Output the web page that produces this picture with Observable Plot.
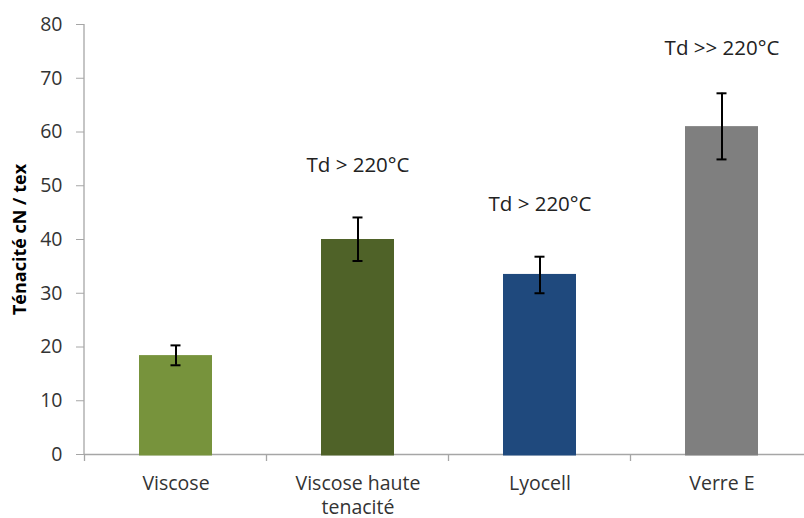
<!DOCTYPE html>
<html>
<head>
<meta charset="utf-8">
<script src="https://cdn.jsdelivr.net/npm/d3@7"></script>
<script src="https://cdn.jsdelivr.net/npm/@observablehq/plot@0.6"></script>
<style>
  html, body { margin: 0; padding: 0; background: #fff; }
  #chart svg { display: block; }
</style>
</head>
<body>
<div id="chart"></div>
<script>
const categories = ["Viscose", "Viscose haute\ntenacité", "Lyocell", "Verre E"];
const values = [18.4, 40.0, 33.5, 61.0];
const errLow = [16.6, 36.0, 30.0, 54.9];
const errHigh = [20.3, 44.1, 36.8, 67.2];
const barColors = ["#77933C", "#4F6228", "#1F497D", "#7F7F7F"];
const annotations = ["Td > 220°C", "Td > 220°C", "Td >> 220°C"];
const annotationCategories = ["Viscose haute\ntenacité", "Lyocell", "Verre E"];
const annotationY = [53.75, 46.6, 75.6];
const yTicks = [0, 10, 20, 30, 40, 50, 60, 70, 80];
const yLabel = "Ténacité cN / tex";

const data = categories.map((c, i) => ({name: c, value: values[i], lo: errLow[i], hi: errHigh[i], color: barColors[i]}));
const notes = annotations.map((t, i) => ({name: annotationCategories[i], y: annotationY[i], text: t}));

const axisGray = "#A6A6A6";

// category separator ticks below the x axis, positioned through the x scale
function categoryTicks(index, scales, values, dims) {
  const x = scales.x;
  const step = x(categories[1]) - x(categories[0]);
  const bw = (x.bandwidth !== undefined ? (typeof x.bandwidth === "function" ? x.bandwidth() : x.bandwidth) : step * 0.4);
  const y0 = scales.y(0);
  const g = d3.create("svg:g");
  categories.forEach(c => {
    const bx = x(c) + bw / 2 - step / 2;
    g.append("line").attr("x1", bx).attr("x2", bx).attr("y1", y0).attr("y2", y0 + 7)
      .attr("stroke", axisGray).attr("stroke-width", 1.3);
  });
  // y axis line
  g.append("line").attr("x1", dims.marginLeft).attr("x2", dims.marginLeft)
    .attr("y1", dims.marginTop).attr("y2", y0)
    .attr("stroke", axisGray).attr("stroke-width", 1.3);
  return g.node();
}

const chart = Plot.plot({
  width: 804,
  height: 518,
  marginLeft: 84,
  marginRight: 0,
  marginTop: 24,
  marginBottom: 64,
  style: {fontFamily: "'Open Sans', sans-serif", fontSize: "19.5px", color: "#333", background: "#fff"},
  x: {domain: categories, range: [84, 813], paddingInner: 0.6, paddingOuter: 0.3},
  y: {domain: [0, 80], range: [454, 24]},
  marks: [
    Plot.ruleY([0], {stroke: axisGray, strokeWidth: 1.5}),
    categoryTicks,
    Plot.barY(data, {x: "name", y: "value", fill: "color", insetBottom: -1.5}),
    Plot.ruleX(data, {x: "name", y1: "lo", y2: "hi", stroke: "black", strokeWidth: 2}),
    Plot.tickY(data, {x: "name", y: "lo", stroke: "black", strokeWidth: 2, insetLeft: 31.5, insetRight: 31.5}),
    Plot.tickY(data, {x: "name", y: "hi", stroke: "black", strokeWidth: 2, insetLeft: 31.5, insetRight: 31.5}),
    Plot.text(notes, {x: "name", y: "y", text: "text", fontSize: 20.5, fill: "#222", textAnchor: "middle", lineAnchor: "middle"}),
    Plot.axisY({ticks: yTicks, tickSize: 8, tickPadding: 14, stroke: axisGray, fill: "#333",
      label: yLabel, labelAnchor: "center", labelOffset: 71, labelArrow: "none"}),
    Plot.axisX({tickSize: 0, tickPadding: 19, fill: "#333", label: null, lineHeight: 1.2})
  ]
});

chart.querySelectorAll("[aria-label='y-axis label'] text, g[aria-label='y-axis label']").forEach(el => {
  el.setAttribute("font-weight", "bold");
  el.setAttribute("font-size", "18px");
  el.setAttribute("fill", "#000");
});

document.getElementById("chart").appendChild(chart);
</script>
</body>
</html>
